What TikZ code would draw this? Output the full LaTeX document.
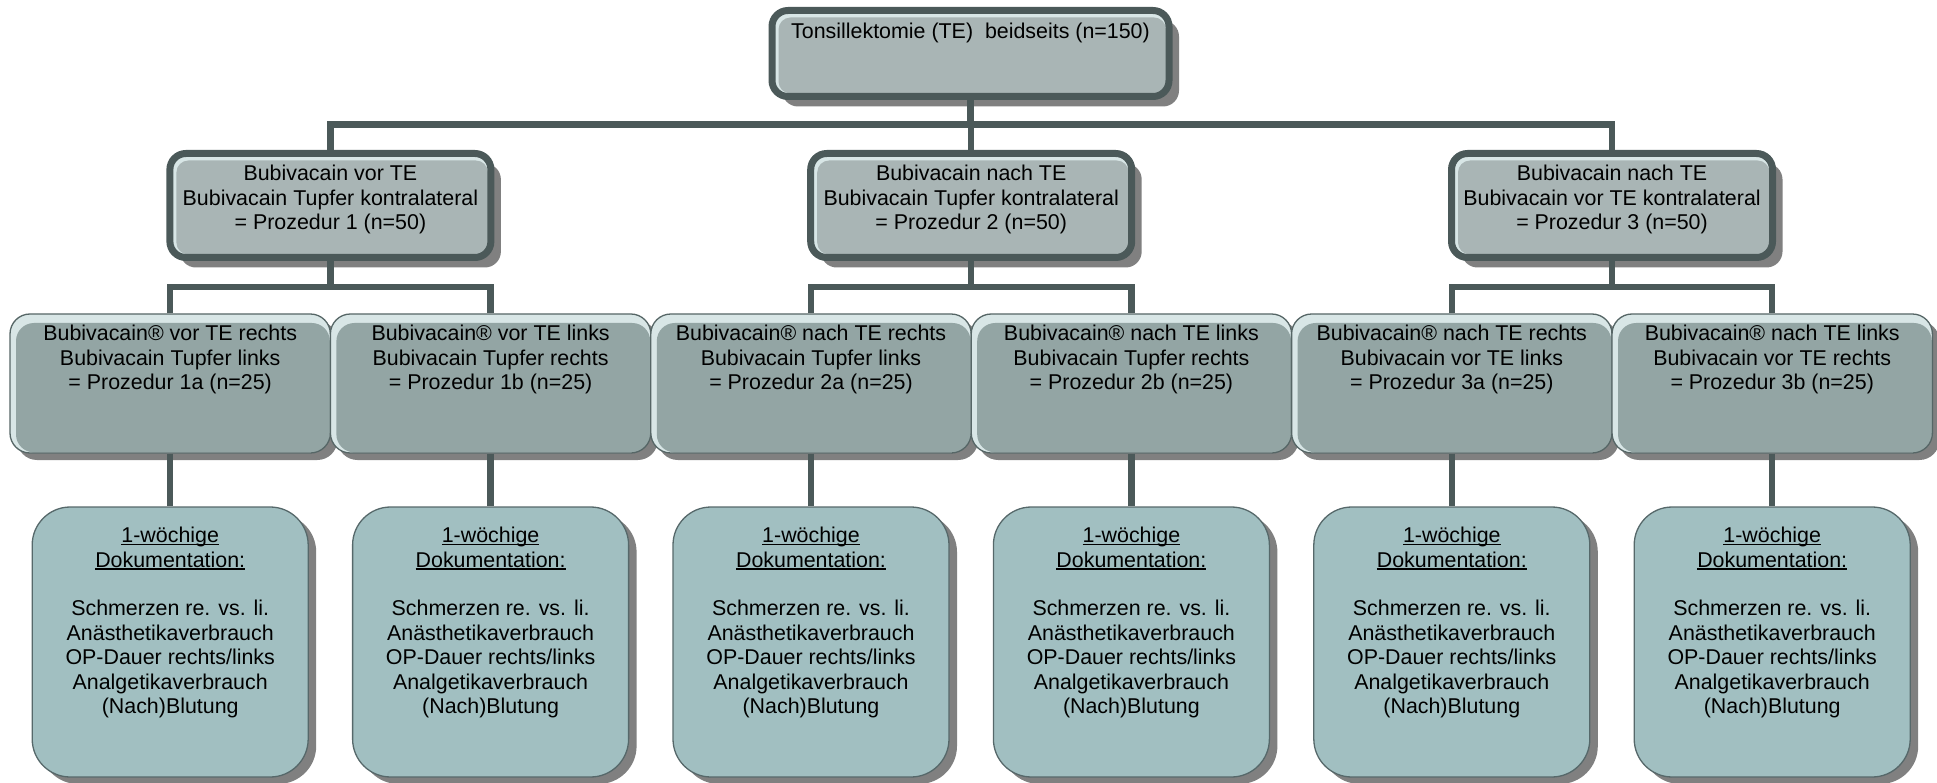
\documentclass[tikz,border=0pt]{standalone}
\usepackage{fontspec}
\setmainfont{Liberation Sans}
\usetikzlibrary{shadows}
\definecolor{bordc}{HTML}{4B5959}
\definecolor{topfill}{HTML}{A9B5B5}
\definecolor{hl}{HTML}{D8E6E6}
\definecolor{l3fill}{HTML}{93A5A4}
\definecolor{l3bord}{HTML}{566666}
\definecolor{l4fill}{HTML}{A1BFC1}
\definecolor{l4bord}{HTML}{56686A}
\definecolor{shadowc}{HTML}{808080}
\newcommand\myul[1]{\setbox0\hbox{#1}\rlap{\rule[-2.4pt]{\wd0}{1.4pt}}\box0}
\begin{document}
\begin{tikzpicture}[x=1pt,y=1pt,
  thickbox/.style={draw=bordc, line width=7pt, fill=hl, rounded corners=16pt,
    drop shadow={shadow xshift=10pt, shadow yshift=-10pt, fill=shadowc, opacity=1},
    path picture={\fill[topfill, rounded corners=12pt]
      ([xshift=6.5pt,yshift=-7pt]path picture bounding box.north west) rectangle
      ([xshift=-3pt,yshift=3pt]path picture bounding box.south east);}},
  l3box/.style={draw=l3bord, line width=1.3pt, fill=hl, rounded corners=20pt,
    minimum width=320.4pt, minimum height=139pt,
    drop shadow={shadow xshift=7pt, shadow yshift=-7pt, fill=shadowc, opacity=1},
    path picture={\fill[l3fill, rounded corners=18pt]
      ([xshift=6pt,yshift=-9pt]path picture bounding box.north west) rectangle
      ([xshift=-0.6pt,yshift=0.6pt]path picture bounding box.south east);}},
  l4box/.style={draw=l4bord, line width=1.3pt, fill=l4fill, rounded corners=38pt,
    minimum width=276pt, minimum height=270pt,
    drop shadow={shadow xshift=8pt, shadow yshift=-7pt, fill=shadowc, opacity=1}},
  txt/.style={align=center, font=\fontsize{21.4}{24.4}\selectfont, inner sep=0pt, anchor=north},
  conn/.style={draw=bordc, line width=6.5pt}]
\useasboundingbox (0,0) rectangle (1937,-783);

% level 1
\node[thickbox, minimum width=397pt, minimum height=86pt] (top) at (970.5,-53.5) {};
\node[txt] (ttop) at (970.5,-23) {Tonsillektomie (TE)\ \ beidseits (n=150)};

% level 2
\node[thickbox, minimum width=321pt, minimum height=104pt] (l2a) at (330.4,-205.5) {};
\node[thickbox, minimum width=321pt, minimum height=104pt] (l2b) at (971.2,-205.5) {};
\node[thickbox, minimum width=321pt, minimum height=104pt] (l2c) at (1612,-205.5) {};
\node[txt] (tl2a) at (330.4,-165) {Bubivacain vor TE\\Bubivacain Tupfer kontralateral\\= Prozedur 1 (n=50)};
\node[txt] (tl2b) at (971.2,-165) {Bubivacain nach TE\\Bubivacain Tupfer kontralateral\\= Prozedur 2 (n=50)};
\node[txt] (tl2c) at (1612,-165) {Bubivacain nach TE\\Bubivacain vor TE kontralateral\\= Prozedur 3 (n=50)};

% level 3
\node[l3box] (l3a) at (170.2,-383.5) {};
\node[l3box] (l3b) at (490.6,-383.5) {};
\node[l3box] (l3c) at (811.0,-383.5) {};
\node[l3box] (l3d) at (1131.4,-383.5) {};
\node[l3box] (l3e) at (1451.8,-383.5) {};
\node[l3box] (l3f) at (1772.2,-383.5) {};
\node[txt] (tl3a) at (170.2,-325) {Bubivacain® vor TE rechts\\Bubivacain Tupfer links\\= Prozedur 1a (n=25)};
\node[txt] (tl3b) at (490.6,-325) {Bubivacain® vor TE links\\Bubivacain Tupfer rechts\\= Prozedur 1b (n=25)};
\node[txt] (tl3c) at (811.0,-325) {Bubivacain® nach TE rechts\\Bubivacain Tupfer links\\= Prozedur 2a (n=25)};
\node[txt] (tl3d) at (1131.4,-325) {Bubivacain® nach TE links\\Bubivacain Tupfer rechts\\= Prozedur 2b (n=25)};
\node[txt] (tl3e) at (1451.8,-325) {Bubivacain® nach TE rechts\\Bubivacain vor TE links\\= Prozedur 3a (n=25)};
\node[txt] (tl3f) at (1772.2,-325) {Bubivacain® nach TE links\\Bubivacain vor TE rechts\\= Prozedur 3b (n=25)};

% level 4
\foreach \n/\x in {a/170.2, b/490.6, c/811.0, d/1131.4, e/1451.8, f/1772.2}{
  \node[l4box] (l4\n) at (\x,-642) {};
  \node[txt] (tl4\n) at (\x,-527) {\myul{1-wöchige}\\\myul{Dokumentation:}\\[24.4pt]Schmerzen re. vs. li.\\Anästhetikaverbrauch\\OP-Dauer rechts/links\\Analgetikaverbrauch\\(Nach)Blutung};
}

% connectors
\coordinate (bus0) at (0,-124.5);
\coordinate (bus1) at (0,-287);
\draw[conn] (top.south) -- (top.south |- bus0);
\draw[conn] (l2a.north) -- (l2a.north |- bus0) -- (l2c.north |- bus0) -- (l2c.north);
\draw[conn] (l2b.north) -- (l2b.north |- bus0);
\foreach \p/\l/\r in {l2a/l3a/l3b, l2b/l3c/l3d, l2c/l3e/l3f}{
  \draw[conn] (\p.south) -- (\p.south |- bus1);
  \draw[conn] (\l.north) -- (\l.north |- bus1) -- (\r.north |- bus1) -- (\r.north);
}
\foreach \n in {a,b,c,d,e,f}{
  \draw[conn] (l3\n.south) -- (l4\n.north);
}
\end{tikzpicture}
\end{document}
